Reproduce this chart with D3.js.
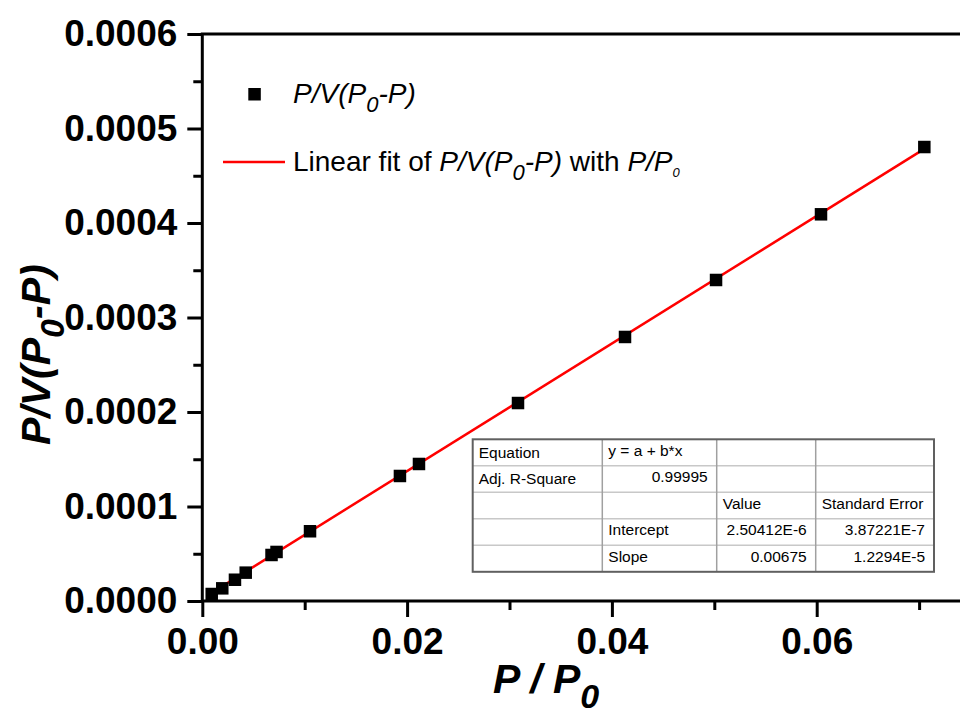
<!DOCTYPE html>
<html>
<head>
<meta charset="utf-8">
<script src="https://cdn.jsdelivr.net/npm/d3@7"></script>
<style>
html,body{margin:0;padding:0;background:#fff;}
svg{display:block;}
text{font-family:"Liberation Sans",Arial,sans-serif;}
</style>
</head>
<body>
<svg id="chart" width="960" height="718"></svg>
<script>
// ---- data ----
const xValues = [0.00092, 0.00195, 0.00319, 0.00424, 0.00676, 0.00725, 0.01052, 0.0193, 0.02116, 0.03083, 0.04128, 0.05017, 0.06042, 0.07051];
const yValues = [0.0000074, 0.0000134, 0.0000225, 0.0000300, 0.0000487, 0.0000519, 0.0000738, 0.0001323, 0.0001450, 0.0002095, 0.0002794, 0.0003397, 0.0004092, 0.0004804];
const fitIntercept = 2.50412e-6;
const fitSlope = 0.00675;
const xMajorTicks = [0, 0.02, 0.04, 0.06];
const xMinorTicks = [0.01, 0.03, 0.05, 0.07];
const xTickLabels = ["0.00", "0.02", "0.04", "0.06"];
const yMajorTicks = [0, 0.0001, 0.0002, 0.0003, 0.0004, 0.0005, 0.0006];
const yMinorTicks = [0.00005, 0.00015, 0.00025, 0.00035, 0.00045, 0.00055];
const yTickLabels = ["0.0000", "0.0001", "0.0002", "0.0003", "0.0004", "0.0005", "0.0006"];
const tableCol0 = ["Equation", "Adj. R-Square", "", "", ""];
const tableCol1 = ["y = a + b*x", "0.99995", "", "Intercept", "Slope"];
const tableCol2 = ["", "", "Value", "2.50412E-6", "0.00675"];
const tableCol3 = ["", "", "Standard Error", "3.87221E-7", "1.2294E-5"];

// ---- layout ----
const svg = d3.select("#chart");
const pL = 202.3, pT = 34, pB = 601, pR = 1021.5;
const x = d3.scaleLinear().domain([0, 0.08]).range([pL, pR]);
const y = d3.scaleLinear().domain([0, 0.0006]).range([pB, pT]);

svg.append("rect").attr("width", 960).attr("height", 718).attr("fill", "#fff");

// frame
svg.append("rect")
  .attr("x", pL).attr("y", pT)
  .attr("width", pR - pL).attr("height", pB - pT)
  .attr("fill", "none").attr("stroke", "#000").attr("stroke-width", 3);

function styleAxis(g) {
  g.select(".domain").remove();
  g.selectAll(".tick line").attr("stroke", "#000").attr("stroke-width", 3);
}

// bottom axis
const xAxisMajor = d3.axisBottom(x).tickValues(xMajorTicks).tickSize(16).tickPadding(11)
  .tickFormat((d, i) => xTickLabels[i]);
svg.append("g").attr("transform", `translate(0,${pB})`).call(xAxisMajor).call(styleAxis)
  .selectAll("text").attr("font-size", 37).attr("font-weight", "bold").attr("fill", "#000");
svg.append("g").attr("transform", `translate(0,${pB})`)
  .call(d3.axisBottom(x).tickValues(xMinorTicks).tickSize(9).tickFormat(""))
  .call(styleAxis);

// left axis
const yAxisMajor = d3.axisLeft(y).tickValues(yMajorTicks).tickSize(15).tickPadding(10)
  .tickFormat((d, i) => yTickLabels[i]);
svg.append("g").attr("transform", `translate(${pL},0)`).call(yAxisMajor).call(styleAxis)
  .selectAll("text").attr("font-size", 37).attr("font-weight", "bold").attr("fill", "#000");
svg.append("g").attr("transform", `translate(${pL},0)`)
  .call(d3.axisLeft(y).tickValues(yMinorTicks).tickSize(9).tickFormat(""))
  .call(styleAxis);

// fit line
const fitX = [d3.min(xValues), d3.max(xValues)];
svg.append("path")
  .datum(fitX.map(v => [v, fitIntercept + fitSlope * v]))
  .attr("d", d3.line().x(d => x(d[0])).y(d => y(d[1])))
  .attr("fill", "none").attr("stroke", "#ff0000").attr("stroke-width", 2.5);

// data points
const ms = 12.5;
svg.append("g").selectAll("rect").data(xValues.map((v, i) => [v, yValues[i]])).join("rect")
  .attr("x", d => x(d[0]) - ms / 2).attr("y", d => y(d[1]) - ms / 2)
  .attr("width", ms).attr("height", ms).attr("fill", "#000");

// axis titles
const xt = svg.append("text").attr("x", 493).attr("y", 693)
  .attr("font-size", 41).attr("font-weight", "bold").attr("font-style", "italic").attr("fill", "#000");
xt.append("tspan").text("P / P");
xt.append("tspan").attr("font-size", 34).attr("dy", 15).text("0");

const yt = svg.append("text").attr("transform", "translate(50,445) rotate(-90)")
  .attr("font-size", 41).attr("font-weight", "bold").attr("font-style", "italic").attr("fill", "#000");
yt.append("tspan").text("P/V(P");
yt.append("tspan").attr("font-size", 34).attr("dy", 14).text("0");
yt.append("tspan").attr("dy", -14).text("-P)");

// legend
svg.append("rect").attr("x", 248.3).attr("y", 88).attr("width", 12.5).attr("height", 12.5).attr("fill", "#000");
const l1 = svg.append("text").attr("x", 293).attr("y", 103).attr("font-size", 28).attr("fill", "#000");
l1.append("tspan").attr("font-style", "italic").text("P/V(P");
l1.append("tspan").attr("font-style", "italic").attr("font-size", 22).attr("dy", 9).text("0");
l1.append("tspan").attr("font-style", "italic").attr("dy", -9).text("-P)");

svg.append("line").attr("x1", 223).attr("x2", 285).attr("y1", 162).attr("y2", 162)
  .attr("stroke", "#ff0000").attr("stroke-width", 2.5);
const l2 = svg.append("text").attr("x", 293).attr("y", 171).attr("font-size", 28).attr("fill", "#000");
l2.append("tspan").text("Linear fit of ");
l2.append("tspan").attr("font-style", "italic").text("P/V(P");
l2.append("tspan").attr("font-style", "italic").attr("font-size", 22).attr("dy", 9).text("0");
l2.append("tspan").attr("font-style", "italic").attr("dy", -9).text("-P)");
l2.append("tspan").text(" with ");
l2.append("tspan").attr("font-style", "italic").text("P/P");
l2.append("tspan").attr("font-style", "italic").attr("font-size", 13).attr("dy", 6).text("0");

// table
const tX = 472.7, tY = 439.3, rowH = 26.5;
const colW = [129.6, 114.4, 99, 118.3];
const cols = [tableCol0, tableCol1, tableCol2, tableCol3];
const colX = [tX];
colW.forEach((w, i) => colX.push(colX[i] + w));
const nRows = tableCol0.length;
const tg = svg.append("g");
tg.append("rect").attr("x", tX).attr("y", tY).attr("width", colX[4] - tX).attr("height", nRows * rowH)
  .attr("fill", "#fff");
for (let r = 1; r < nRows; r++) {
  tg.append("line").attr("x1", tX).attr("x2", colX[4]).attr("y1", tY + r * rowH).attr("y2", tY + r * rowH)
    .attr("stroke", "#c8c8c8").attr("stroke-width", 1.5);
}
for (let c = 1; c < 4; c++) {
  tg.append("line").attr("x1", colX[c]).attr("x2", colX[c]).attr("y1", tY).attr("y2", tY + nRows * rowH)
    .attr("stroke", "#a0a0a0").attr("stroke-width", 1.5);
}
tg.append("rect").attr("x", tX).attr("y", tY).attr("width", colX[4] - tX).attr("height", nRows * rowH)
  .attr("fill", "none").attr("stroke", "#606060").attr("stroke-width", 2);
const isNum = s => /^[0-9.\-]+(E-?\d+)?$/.test(s);
cols.forEach((col, c) => {
  col.forEach((s, r) => {
    if (!s) return;
    const num = isNum(s);
    tg.append("text")
      .attr("x", num ? colX[c + 1] - 9 : colX[c] + 6)
      .attr("y", tY + r * rowH + (c === 0 ? 18.5 : 16.5))
      .attr("text-anchor", num ? "end" : "start")
      .attr("font-size", 15.5).attr("fill", "#000").text(s);
  });
});
</script>
</body>
</html>
